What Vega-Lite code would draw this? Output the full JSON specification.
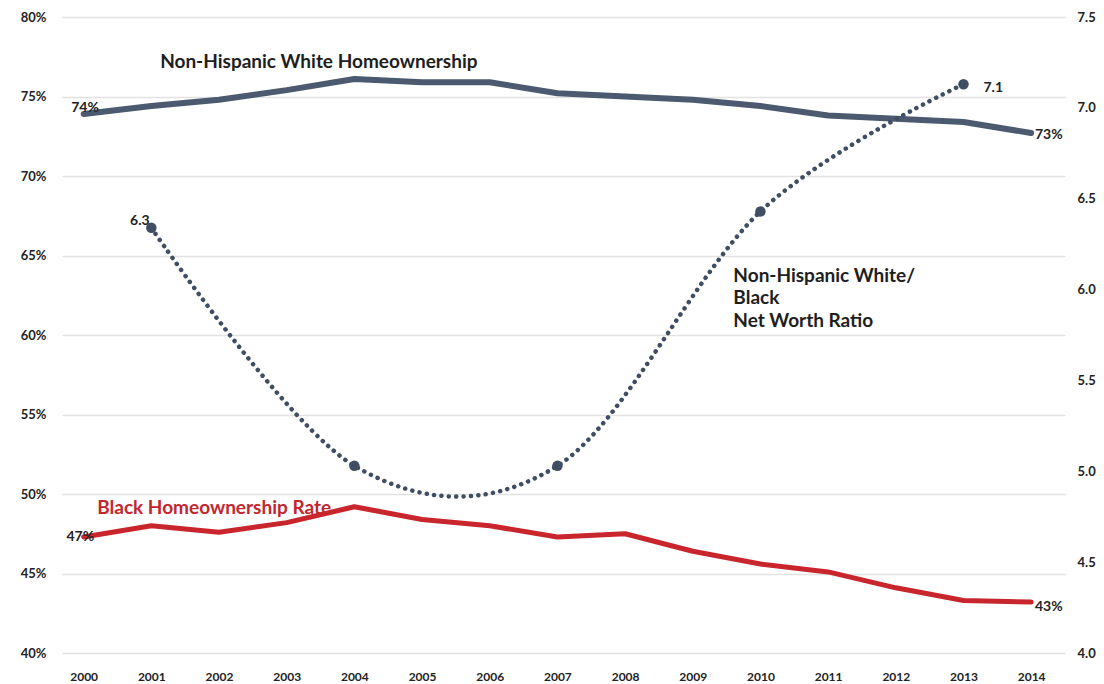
{
  "$schema": "https://vega.github.io/schema/vega-lite/v6.json",
  "width": 1003,
  "height": 636,
  "autosize": {"type": "none"},
  "padding": {"left": 62, "top": 17, "right": 39, "bottom": 31},
  "background": "white",
  "config": {
    "view": {"stroke": null},
    "font": "Lato",
    "axis": {"labelFont": "Lato", "labelFontWeight": "bold", "labelFontSize": 13, "labelColor": "#222222", "domain": false, "ticks": false, "title": null}
  },
  "datasets": {
    "homes": [
      {"year": 2000, "white": 73.9, "black": 47.3},
      {"year": 2001, "white": 74.4, "black": 48.0},
      {"year": 2002, "white": 74.8, "black": 47.6},
      {"year": 2003, "white": 75.4, "black": 48.2},
      {"year": 2004, "white": 76.1, "black": 49.2},
      {"year": 2005, "white": 75.9, "black": 48.4},
      {"year": 2006, "white": 75.9, "black": 48.0},
      {"year": 2007, "white": 75.2, "black": 47.3},
      {"year": 2008, "white": 75.0, "black": 47.5},
      {"year": 2009, "white": 74.8, "black": 46.4},
      {"year": 2010, "white": 74.4, "black": 45.6},
      {"year": 2011, "white": 73.8, "black": 45.1},
      {"year": 2012, "white": 73.6, "black": 44.1},
      {"year": 2013, "white": 73.4, "black": 43.3},
      {"year": 2014, "white": 72.7, "black": 43.2}
    ],
    "ratio": [
      {"year": 2001, "ratio": 6.34},
      {"year": 2004, "ratio": 5.03},
      {"year": 2007, "ratio": 5.03},
      {"year": 2010, "ratio": 6.43},
      {"year": 2013, "ratio": 7.13}
    ],
    "labels": [
      {"year": 2001.13, "value": 77.17, "text": "Non-Hispanic White Homeownership", "kind": "title", "color": "dark"},
      {"year": 2009.6, "value": 63.71, "text": "Non-Hispanic White/", "kind": "title", "color": "dark"},
      {"year": 2009.6, "value": 62.33, "text": "Black", "kind": "title", "color": "dark"},
      {"year": 2009.6, "value": 60.88, "text": "Net Worth Ratio", "kind": "title", "color": "dark"},
      {"year": 2000.2, "value": 49.12, "text": "Black Homeownership Rate", "kind": "title", "color": "red"},
      {"year": 2000.02, "value": 74.28, "text": "74%", "kind": "value", "color": "dark"},
      {"year": 2014.26, "value": 72.58, "text": "73%", "kind": "value", "color": "dark"},
      {"year": 1999.95, "value": 47.3, "text": "47%", "kind": "value", "color": "dark"},
      {"year": 2014.26, "value": 42.89, "text": "43%", "kind": "value", "color": "dark"},
      {"year": 2000.83, "value": 67.17, "text": "6.3", "kind": "value", "color": "dark"},
      {"year": 2013.44, "value": 75.53, "text": "7.1", "kind": "value", "color": "dark"}
    ]
  },
  "encoding": {
    "x": {
      "field": "year", "type": "quantitative",
      "scale": {"domain": [1999.68, 2014.5], "nice": false, "zero": false},
      "axis": {"values": [2000,2001,2002,2003,2004,2005,2006,2007,2008,2009,2010,2011,2012,2013,2014], "format": "d", "grid": false, "labelPadding": 18, "labelFontSize": 12}
    }
  },
  "layer": [
    {
      "layer": [
        {
          "data": {"name": "homes"},
          "mark": {"type": "line", "color": "#4b5a6e", "strokeWidth": 6, "strokeJoin": "round", "strokeCap": "round"},
          "encoding": {
            "y": {
              "field": "white", "type": "quantitative",
              "scale": {"domain": [40, 80], "nice": false, "zero": false},
              "axis": {"orient": "left", "values": [40,45,50,55,60,65,70,75,80], "labelExpr": "datum.value + '%'", "grid": true, "gridColor": "#e2e2e2", "gridWidth": 1.5, "labelPadding": 16}
            }
          }
        },
        {
          "data": {"name": "homes"},
          "mark": {"type": "line", "color": "#c8262c", "strokeWidth": 5, "strokeJoin": "round", "strokeCap": "round"},
          "encoding": {"y": {"field": "black", "type": "quantitative"}}
        },
        {
          "data": {"name": "labels"},
          "transform": [{"filter": "datum.kind == 'title'"}],
          "mark": {"type": "text", "align": "left", "baseline": "middle", "fontSize": 19, "fontWeight": "bold"},
          "encoding": {
            "y": {"field": "value", "type": "quantitative"},
            "text": {"field": "text"},
            "color": {"field": "color", "type": "nominal", "scale": {"domain": ["dark", "red"], "range": ["#1e1e1e", "#c4262e"]}, "legend": null}
          }
        },
        {
          "data": {"name": "labels"},
          "transform": [{"filter": "datum.kind == 'value'"}],
          "mark": {"type": "text", "align": "center", "baseline": "middle", "fontSize": 14, "fontWeight": "bold", "color": "#222222"},
          "encoding": {
            "y": {"field": "value", "type": "quantitative"},
            "text": {"field": "text"}
          }
        }
      ]
    },
    {
      "layer": [
        {
          "data": {"name": "ratio"},
          "mark": {"type": "line", "interpolate": "cardinal", "tension": 0, "color": "#3f4e63", "strokeWidth": 4.5, "strokeCap": "round", "strokeDash": [0.1, 7.3]},
          "encoding": {
            "y": {
              "field": "ratio", "type": "quantitative",
              "scale": {"domain": [4.0, 7.5], "nice": false, "zero": false},
              "axis": {"orient": "right", "values": [4.0,4.5,5.0,5.5,6.0,6.5,7.0,7.5], "format": ".1f", "grid": false, "labelPadding": 12, "labelAlign": "left"}
            }
          }
        },
        {
          "data": {"name": "ratio"},
          "mark": {"type": "circle", "color": "#3f4e63", "opacity": 1, "size": 110},
          "encoding": {"y": {"field": "ratio", "type": "quantitative"}}
        }
      ]
    }
  ],
  "resolve": {"scale": {"y": "independent"}}
}
